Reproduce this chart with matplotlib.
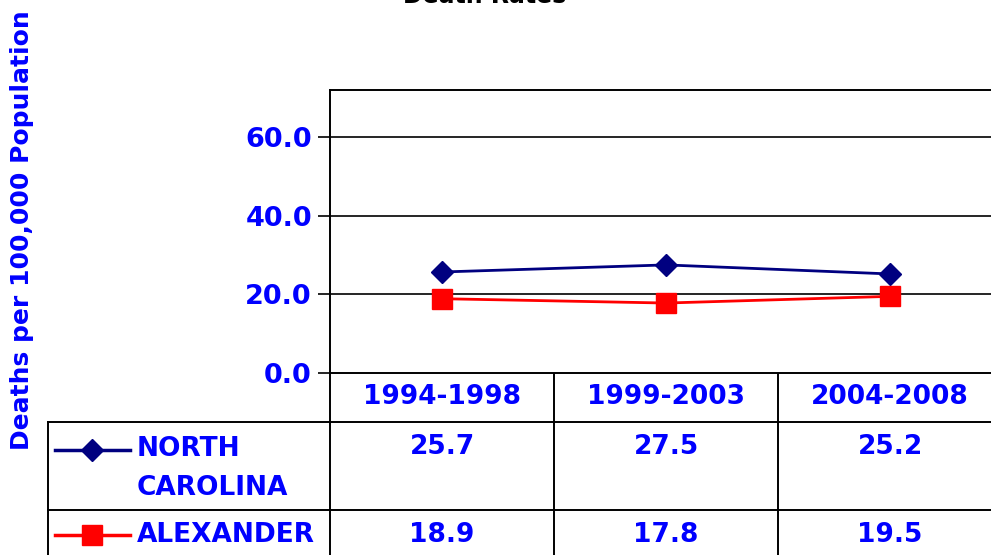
import matplotlib.pyplot as plt

# data
periods = ["1994-1998", "1999-2003", "2004-2008"]
nc_rates = [25.7, 27.5, 25.2]
alex_rates = [18.9, 17.8, 19.5]
series_names = ["NORTH\nCAROLINA", "ALEXANDER"]
yticks = [0.0, 20.0, 40.0, 60.0]

blue = "#0000FF"
navy = "#000080"
red = "#FF0000"
fs = 19

W, H = 991, 555
fig = plt.figure(figsize=(W / 100, H / 100), dpi=100)

# overlay in pixel coords for the data table
ov = fig.add_axes([0, 0, 1, 1])
ov.set_xlim(0, W)
ov.set_ylim(H, 0)
ov.axis("off")

# chart area (extends past right edge like the reference crop)
left, top, bottom = 330, 90, 373
colw = 224
ax = fig.add_axes([left / W, (H - bottom) / H, 3 * colw / W, (bottom - top) / H])
x = range(len(periods))
ax.plot(x, nc_rates, color=navy, lw=2, marker="D", ms=11, zorder=3)
ax.plot(x, alex_rates, color=red, lw=2, marker="s", ms=14, zorder=3)
ax.set_xlim(-0.5, len(periods) - 0.5)
ax.set_ylim(0, 72)
ax.set_yticks(yticks)
ax.set_yticklabels(["%.1f" % v for v in yticks], color=blue, fontsize=19.5, fontweight="bold")
ax.set_xticks([])
ax.tick_params(axis="y", length=9, width=1.2, pad=4)
for v in yticks[1:]:
    ax.axhline(v, color="black", lw=1.2, zorder=1)
for s in ax.spines.values():
    s.set_linewidth(1.4)
ax.set_ylabel("Deaths per 100,000 Population", color=blue, fontsize=18,
              fontweight="bold")
ax.yaxis.set_label_coords(-(left - 34) / (3 * colw), 0.5 - (230 - (top + bottom) / 2) / (bottom - top))

fig.text(485 / W, 1 - (-4) / H, "Death Rates", ha="center", va="center",
         fontsize=17, fontweight="bold", color="black")

# table grid
lc = dict(color="black", lw=1.4)
cols = [left + i * colw for i in range(len(periods) + 1)]
ov.plot([48, W], [422, 422], **lc)
ov.plot([48, W], [510, 510], **lc)
ov.plot([48, 48], [422, H], **lc)
for cx in cols[:-1]:
    ov.plot([cx, cx], [bottom, H], **lc)

centers = [cols[i] + colw / 2 for i in range(len(periods))]
for cx, p in zip(centers, periods):
    ov.text(cx, 397, p, ha="center", va="center", color=blue, fontsize=fs, fontweight="bold")
for cx, v in zip(centers, nc_rates):
    ov.text(cx, 447, "%.1f" % v, ha="center", va="center", color=blue, fontsize=fs, fontweight="bold")
for cx, v in zip(centers, alex_rates):
    ov.text(cx, 535, "%.1f" % v, ha="center", va="center", color=blue, fontsize=fs, fontweight="bold")

# legend keys
ov.plot([55, 92, 130], [450, 450, 450], color=navy, lw=2.5)
ov.plot([92], [450], color=navy, marker="D", ms=11)
ov.plot([55, 92, 130], [535, 535, 535], color=red, lw=2.5)
ov.plot([92], [535], color=red, marker="s", ms=14)
ov.text(137, 449, "NORTH", ha="left", va="center", color=blue, fontsize=fs, fontweight="bold")
ov.text(137, 488, "CAROLINA", ha="left", va="center", color=blue, fontsize=fs, fontweight="bold")
ov.text(137, 535, series_names[1], ha="left", va="center", color=blue, fontsize=fs, fontweight="bold")

fig.savefig("out.png", dpi=100)
